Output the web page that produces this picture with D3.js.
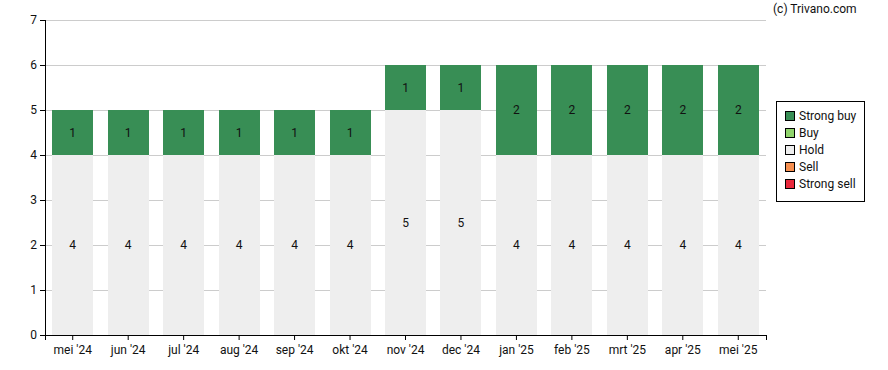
<!DOCTYPE html>
<html>
<head>
<meta charset="utf-8">
<script src="https://cdn.jsdelivr.net/npm/d3@7"></script>
<style>
  body { margin: 0; background: #fff; }
  text { font-family: Roboto, "Liberation Sans", sans-serif; }
</style>
</head>
<body>
<div id="chart"></div>
<script>
var months = ["mei '24", "jun '24", "jul '24", "aug '24", "sep '24", "okt '24", "nov '24",
              "dec '24", "jan '25", "feb '25", "mrt '25", "apr '25", "mei '25"];
var strongSell = [0, 0, 0, 0, 0, 0, 0, 0, 0, 0, 0, 0, 0];
var sell       = [0, 0, 0, 0, 0, 0, 0, 0, 0, 0, 0, 0, 0];
var hold       = [4, 4, 4, 4, 4, 4, 5, 5, 4, 4, 4, 4, 4];
var buy        = [0, 0, 0, 0, 0, 0, 0, 0, 0, 0, 0, 0, 0];
var strongBuy  = [1, 1, 1, 1, 1, 1, 1, 1, 2, 2, 2, 2, 2];
var yTicks = [0, 1, 2, 3, 4, 5, 6, 7];

var seriesNames = ["Strong sell", "Sell", "Hold", "Buy", "Strong buy"];
var seriesValues = [strongSell, sell, hold, buy, strongBuy];
var colors = ["#e8283c", "#f68f4f", "#eeeeee", "#90d46c", "#388e55"];

var margin = {top: 20, right: 122, bottom: 35, left: 45},
    width = 888 - margin.left - margin.right,
    height = 370 - margin.top - margin.bottom;

var svg = d3.select("#chart")
  .append("svg")
    .attr("width", 888)
    .attr("height", 370);

var g = svg.append("g")
    .attr("transform", "translate(" + margin.left + "," + margin.top + ")");

var x = d3.scaleBand()
  .domain(months)
  .range([0, width])
  .paddingInner(0.26)
  .paddingOuter(0.13);

var y = d3.scaleLinear()
  .domain([0, 7])
  .range([height, 0]);

// grid
g.append("g")
  .selectAll("line")
  .data(yTicks.slice(1))
  .enter().append("line")
    .attr("x1", 0)
    .attr("x2", width)
    .attr("y1", function(d) { return y(d); })
    .attr("y2", function(d) { return y(d); })
    .style("stroke", "#cccccc")
    .style("stroke-width", 1)
    .attr("shape-rendering", "crispEdges");

// stack
var rows = months.map(function(m, i) {
  var r = {month: m};
  seriesNames.forEach(function(s, j) { r[s] = seriesValues[j][i]; });
  return r;
});
var stacked = d3.stack().keys(seriesNames)(rows);

var layers = g.selectAll(".layer")
  .data(stacked)
  .enter().append("g")
    .attr("class", "layer")
    .style("fill", function(d, i) { return colors[i]; });

layers.selectAll("rect")
  .data(function(d) { return d; })
  .enter().append("rect")
    .attr("x", function(d) { return x(d.data.month); })
    .attr("y", function(d) { return y(d[1]); })
    .attr("width", x.bandwidth())
    .attr("height", function(d) { return y(d[0]) - y(d[1]); })
    .attr("shape-rendering", "crispEdges");

layers.selectAll("text")
  .data(function(d) { return d.filter(function(p) { return p[1] - p[0] > 0; }); })
  .enter().append("text")
    .attr("x", function(d) { return x(d.data.month) + x.bandwidth() / 2; })
    .attr("y", function(d) { return y((d[0] + d[1]) / 2); })
    .attr("dy", "0.35em")
    .attr("text-anchor", "middle")
    .style("fill", "#111")
    .style("font-size", "12px")
    .text(function(d) { return d[1] - d[0]; });

// axes
var yAxis = g.append("g")
  .call(d3.axisLeft(y).tickValues(yTicks).tickSize(5).tickFormat(d3.format("d")));
var xAxis = g.append("g")
  .attr("transform", "translate(0," + height + ")")
  .call(d3.axisBottom(x).tickSize(5));

[yAxis, xAxis].forEach(function(a) {
  a.select(".domain").style("stroke", "#000").attr("shape-rendering", "crispEdges");
  a.selectAll(".tick line").style("stroke", "#000");
  a.selectAll(".tick text")
    .style("font-size", "12px")
    .style("font-family", "Roboto, sans-serif")
    .style("fill", "#111");
});
xAxis.selectAll(".tick text").attr("dy", "0.9em");

// legend
var legend = svg.append("g")
  .attr("transform", "translate(776,101)");
legend.append("rect")
  .attr("width", 88)
  .attr("height", 100)
  .style("fill", "#fff")
  .style("stroke", "#000")
  .attr("shape-rendering", "crispEdges");

var legendOrder = seriesNames.slice().reverse();
var legendColors = colors.slice().reverse();
var item = legend.selectAll(".item")
  .data(legendOrder)
  .enter().append("g")
    .attr("transform", function(d, i) { return "translate(9," + (15 + i * 17) + ")"; });
item.append("rect")
  .attr("x", 0.5)
  .attr("y", -4.5)
  .attr("width", 9)
  .attr("height", 9)
  .style("fill", function(d, i) { return legendColors[i]; })
  .style("stroke", "#000");
item.append("text")
  .attr("x", 14)
  .attr("dy", "0.35em")
  .style("font-size", "12px")
  .style("fill", "#111")
  .text(function(d) { return d; });

svg.append("text")
  .attr("x", 773)
  .attr("y", 13)
  .style("font-size", "12px")
  .style("fill", "#111")
  .text("(c) Trivano.com");
</script>
</body>
</html>
